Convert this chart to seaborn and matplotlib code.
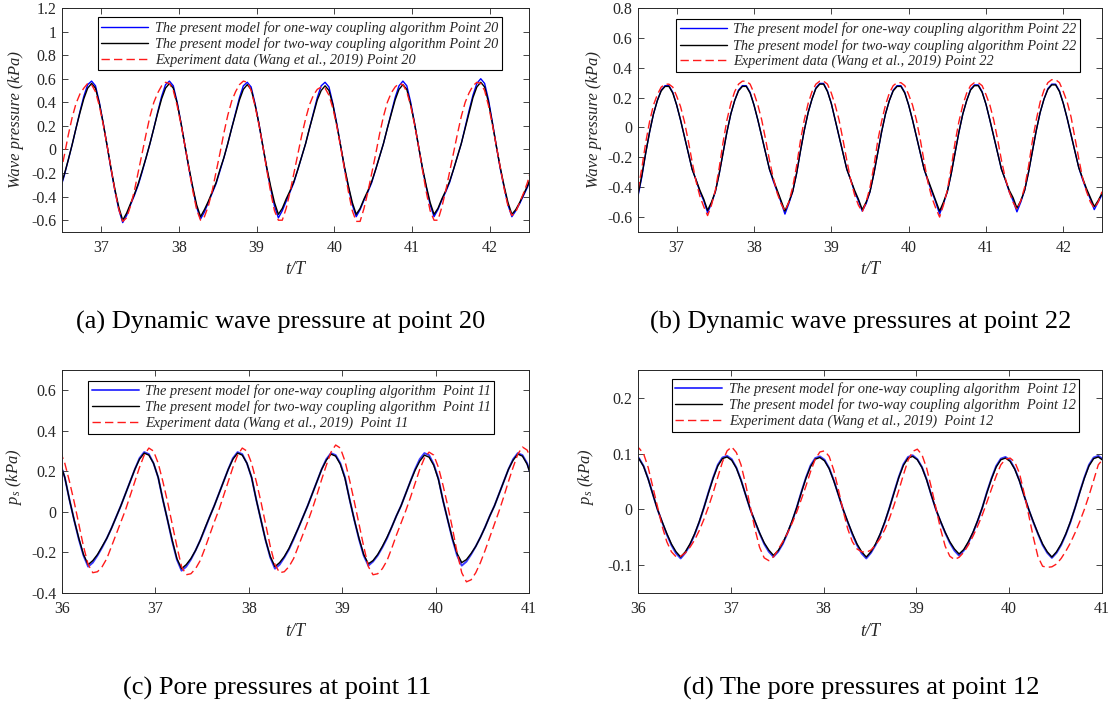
import matplotlib
matplotlib.use("Agg")
import matplotlib.pyplot as plt
import seaborn as sns

# ---------------- data ----------------
# (a) point 20, dynamic wave pressure (kPa) vs t/T
t_a = [36.48, 36.53, 36.58, 36.63, 36.68, 36.73, 36.78, 36.83, 36.88, 36.93, 36.98,
       37.03, 37.08, 37.13, 37.18, 37.23, 37.28, 37.33, 37.38, 37.43, 37.48, 37.53, 37.58, 37.63, 37.68, 37.73, 37.78, 37.83, 37.88, 37.93, 37.98,
       38.03, 38.08, 38.13, 38.18, 38.23, 38.28, 38.33, 38.38, 38.43, 38.48, 38.53, 38.58, 38.63, 38.68, 38.73, 38.78, 38.83, 38.88, 38.93, 38.98,
       39.03, 39.08, 39.13, 39.18, 39.23, 39.28, 39.33, 39.38, 39.43, 39.48, 39.53, 39.58, 39.63, 39.68, 39.73, 39.78, 39.83, 39.88, 39.93, 39.98,
       40.03, 40.08, 40.13, 40.18, 40.23, 40.28, 40.33, 40.38, 40.43, 40.48, 40.53, 40.58, 40.63, 40.68, 40.73, 40.78, 40.83, 40.88, 40.93, 40.98,
       41.03, 41.08, 41.13, 41.18, 41.23, 41.28, 41.33, 41.38, 41.43, 41.48, 41.53, 41.58, 41.63, 41.68, 41.73, 41.78, 41.83, 41.88, 41.93, 41.98,
       42.03, 42.08, 42.13, 42.18, 42.23, 42.28, 42.33, 42.38, 42.43, 42.48, 42.53]
one_way_a = [-0.33, -0.22, -0.09, 0.04, 0.18, 0.32, 0.45, 0.55, 0.58, 0.54, 0.40,
             0.22, 0.03, -0.17, -0.35, -0.51, -0.62, -0.56, -0.47, -0.39, -0.30, -0.19, -0.07, 0.05, 0.18, 0.32, 0.45, 0.55, 0.58, 0.54, 0.40,
             0.22, 0.03, -0.16, -0.33, -0.49, -0.59, -0.53, -0.45, -0.37, -0.29, -0.18, -0.07, 0.05, 0.18, 0.31, 0.44, 0.54, 0.57, 0.53, 0.39,
             0.22, 0.03, -0.16, -0.33, -0.48, -0.58, -0.52, -0.44, -0.36, -0.28, -0.17, -0.06, 0.05, 0.18, 0.31, 0.44, 0.54, 0.57, 0.53, 0.39,
             0.22, 0.03, -0.16, -0.32, -0.47, -0.57, -0.51, -0.43, -0.36, -0.28, -0.17, -0.06, 0.05, 0.18, 0.31, 0.44, 0.54, 0.58, 0.54, 0.40,
             0.22, 0.03, -0.16, -0.32, -0.47, -0.57, -0.51, -0.43, -0.36, -0.28, -0.17, -0.06, 0.05, 0.19, 0.33, 0.46, 0.56, 0.60, 0.56, 0.42,
             0.23, 0.03, -0.16, -0.32, -0.47, -0.57, -0.52, -0.46, -0.39, -0.32, -0.23]
two_way_a = [-0.32, -0.21, -0.09, 0.04, 0.18, 0.31, 0.43, 0.52, 0.56, 0.52, 0.39,
             0.22, 0.03, -0.16, -0.34, -0.49, -0.60, -0.54, -0.46, -0.38, -0.29, -0.18, -0.07, 0.05, 0.18, 0.31, 0.43, 0.52, 0.56, 0.52, 0.39,
             0.22, 0.03, -0.15, -0.32, -0.47, -0.57, -0.51, -0.44, -0.36, -0.28, -0.17, -0.07, 0.05, 0.18, 0.30, 0.42, 0.51, 0.55, 0.51, 0.38,
             0.22, 0.03, -0.15, -0.31, -0.45, -0.55, -0.50, -0.42, -0.35, -0.27, -0.17, -0.06, 0.05, 0.18, 0.30, 0.42, 0.50, 0.54, 0.50, 0.38,
             0.21, 0.03, -0.15, -0.31, -0.45, -0.55, -0.50, -0.42, -0.35, -0.27, -0.17, -0.06, 0.05, 0.18, 0.30, 0.42, 0.51, 0.55, 0.51, 0.38,
             0.22, 0.03, -0.15, -0.31, -0.45, -0.55, -0.50, -0.42, -0.35, -0.27, -0.17, -0.06, 0.05, 0.18, 0.31, 0.44, 0.53, 0.57, 0.53, 0.40,
             0.22, 0.03, -0.15, -0.31, -0.45, -0.55, -0.51, -0.45, -0.38, -0.31, -0.22]
exp_a = [-0.21, -0.05, 0.12, 0.27, 0.39, 0.47, 0.52, 0.56, 0.55, 0.49, 0.37,
         0.21, 0.03, -0.16, -0.35, -0.51, -0.61, -0.58, -0.48, -0.35, -0.19, -0.03, 0.13, 0.28, 0.40, 0.48, 0.54, 0.57, 0.56, 0.50, 0.37,
         0.21, 0.03, -0.16, -0.35, -0.51, -0.60, -0.57, -0.48, -0.35, -0.19, -0.03, 0.14, 0.29, 0.41, 0.49, 0.55, 0.58, 0.57, 0.50, 0.37,
         0.21, 0.03, -0.17, -0.36, -0.52, -0.60, -0.60, -0.50, -0.36, -0.20, -0.04, 0.12, 0.26, 0.38, 0.46, 0.51, 0.53, 0.52, 0.46, 0.35,
         0.20, 0.02, -0.17, -0.36, -0.52, -0.61, -0.61, -0.50, -0.36, -0.20, -0.04, 0.13, 0.28, 0.40, 0.48, 0.53, 0.56, 0.55, 0.49, 0.37,
         0.21, 0.03, -0.17, -0.36, -0.52, -0.60, -0.60, -0.49, -0.35, -0.19, -0.03, 0.13, 0.28, 0.40, 0.48, 0.54, 0.57, 0.56, 0.50, 0.37,
         0.21, 0.03, -0.15, -0.33, -0.48, -0.56, -0.53, -0.45, -0.37, -0.28, -0.16]

# (b) point 22, dynamic wave pressure (kPa) vs t/T
t_b = [36.50, 36.55, 36.60, 36.65, 36.70, 36.75, 36.80, 36.85, 36.90, 36.95,
       37.00, 37.05, 37.10, 37.15, 37.20, 37.25, 37.30, 37.35, 37.40, 37.45, 37.50, 37.55, 37.60, 37.65, 37.70, 37.75, 37.80, 37.85, 37.90, 37.95,
       38.00, 38.05, 38.10, 38.15, 38.20, 38.25, 38.30, 38.35, 38.40, 38.45, 38.50, 38.55, 38.60, 38.65, 38.70, 38.75, 38.80, 38.85, 38.90, 38.95,
       39.00, 39.05, 39.10, 39.15, 39.20, 39.25, 39.30, 39.35, 39.40, 39.45, 39.50, 39.55, 39.60, 39.65, 39.70, 39.75, 39.80, 39.85, 39.90, 39.95,
       40.00, 40.05, 40.10, 40.15, 40.20, 40.25, 40.30, 40.35, 40.40, 40.45, 40.50, 40.55, 40.60, 40.65, 40.70, 40.75, 40.80, 40.85, 40.90, 40.95,
       41.00, 41.05, 41.10, 41.15, 41.20, 41.25, 41.30, 41.35, 41.40, 41.45, 41.50, 41.55, 41.60, 41.65, 41.70, 41.75, 41.80, 41.85, 41.90, 41.95,
       42.00, 42.05, 42.10, 42.15, 42.20, 42.25, 42.30, 42.35, 42.40, 42.45, 42.50]
one_way_b = [-0.46, -0.33, -0.17, -0.03, 0.09, 0.18, 0.25, 0.28, 0.28, 0.235,
             0.15, 0.05, -0.06, -0.17, -0.28, -0.35, -0.43, -0.49, -0.57, -0.51, -0.43, -0.31, -0.17, -0.03, 0.09, 0.18, 0.25, 0.28, 0.28, 0.235,
             0.15, 0.05, -0.06, -0.17, -0.28, -0.36, -0.43, -0.50, -0.58, -0.51, -0.43, -0.31, -0.16, -0.02, 0.10, 0.19, 0.265, 0.295, 0.295, 0.245,
             0.16, 0.05, -0.06, -0.17, -0.28, -0.35, -0.43, -0.49, -0.56, -0.51, -0.43, -0.31, -0.17, -0.03, 0.09, 0.18, 0.25, 0.28, 0.28, 0.235,
             0.15, 0.05, -0.06, -0.17, -0.28, -0.36, -0.43, -0.50, -0.58, -0.51, -0.43, -0.31, -0.17, -0.03, 0.09, 0.18, 0.255, 0.285, 0.285, 0.24,
             0.155, 0.05, -0.06, -0.17, -0.28, -0.35, -0.43, -0.49, -0.565, -0.50, -0.42, -0.30, -0.16, -0.02, 0.10, 0.19, 0.26, 0.29, 0.29, 0.245,
             0.16, 0.06, -0.05, -0.16, -0.27, -0.35, -0.42, -0.48, -0.55, -0.50, -0.45]
two_way_b = [-0.45, -0.32, -0.17, -0.03, 0.09, 0.18, 0.245, 0.275, 0.275, 0.23,
             0.15, 0.05, -0.06, -0.17, -0.28, -0.35, -0.42, -0.48, -0.555, -0.50, -0.43, -0.31, -0.17, -0.03, 0.09, 0.18, 0.245, 0.275, 0.275, 0.23,
             0.15, 0.05, -0.06, -0.17, -0.28, -0.35, -0.42, -0.49, -0.56, -0.50, -0.43, -0.31, -0.16, -0.02, 0.10, 0.19, 0.26, 0.29, 0.29, 0.24,
             0.16, 0.05, -0.06, -0.17, -0.28, -0.35, -0.42, -0.48, -0.55, -0.50, -0.43, -0.31, -0.17, -0.03, 0.09, 0.18, 0.245, 0.275, 0.275, 0.23,
             0.15, 0.05, -0.06, -0.17, -0.28, -0.35, -0.42, -0.49, -0.56, -0.50, -0.43, -0.31, -0.17, -0.03, 0.09, 0.18, 0.25, 0.28, 0.28, 0.235,
             0.155, 0.05, -0.06, -0.17, -0.28, -0.35, -0.42, -0.47, -0.54, -0.49, -0.42, -0.30, -0.16, -0.02, 0.10, 0.19, 0.255, 0.285, 0.285, 0.24,
             0.16, 0.06, -0.05, -0.16, -0.27, -0.34, -0.41, -0.47, -0.53, -0.49, -0.44]
exp_b = [-0.42, -0.27, -0.10, 0.04, 0.15, 0.22, 0.27, 0.29, 0.29, 0.27,
         0.21, 0.14, 0.04, -0.09, -0.23, -0.36, -0.46, -0.53, -0.59, -0.52, -0.42, -0.27, -0.10, 0.05, 0.16, 0.24, 0.29, 0.31, 0.31, 0.29,
         0.23, 0.15, 0.05, -0.08, -0.22, -0.34, -0.44, -0.51, -0.56, -0.50, -0.40, -0.26, -0.09, 0.05, 0.16, 0.24, 0.29, 0.31, 0.31, 0.29,
         0.23, 0.15, 0.05, -0.08, -0.22, -0.35, -0.45, -0.52, -0.565, -0.50, -0.40, -0.26, -0.09, 0.04, 0.15, 0.23, 0.28, 0.30, 0.30, 0.28,
         0.22, 0.15, 0.05, -0.08, -0.23, -0.37, -0.47, -0.54, -0.60, -0.52, -0.42, -0.27, -0.10, 0.04, 0.15, 0.23, 0.28, 0.30, 0.30, 0.28,
         0.22, 0.15, 0.05, -0.08, -0.22, -0.34, -0.43, -0.50, -0.55, -0.49, -0.40, -0.26, -0.09, 0.05, 0.17, 0.25, 0.30, 0.32, 0.32, 0.30,
         0.24, 0.17, 0.07, -0.07, -0.21, -0.34, -0.43, -0.50, -0.54, -0.50, -0.43]

# (c) point 11, pore pressure (kPa) vs t/T
t_c = [35.98,
       36.03, 36.08, 36.13, 36.18, 36.23, 36.28, 36.33, 36.38, 36.43, 36.48, 36.53, 36.58, 36.63, 36.68, 36.73, 36.78, 36.83, 36.88, 36.93, 36.98,
       37.03, 37.08, 37.13, 37.18, 37.23, 37.28, 37.33, 37.38, 37.43, 37.48, 37.53, 37.58, 37.63, 37.68, 37.73, 37.78, 37.83, 37.88, 37.93, 37.98,
       38.03, 38.08, 38.13, 38.18, 38.23, 38.28, 38.33, 38.38, 38.43, 38.48, 38.53, 38.58, 38.63, 38.68, 38.73, 38.78, 38.83, 38.88, 38.93, 38.98,
       39.03, 39.08, 39.13, 39.18, 39.23, 39.28, 39.33, 39.38, 39.43, 39.48, 39.53, 39.58, 39.63, 39.68, 39.73, 39.78, 39.83, 39.88, 39.93, 39.98,
       40.03, 40.08, 40.13, 40.18, 40.23, 40.28, 40.33, 40.38, 40.43, 40.48, 40.53, 40.58, 40.63, 40.68, 40.73, 40.78, 40.83, 40.88, 40.93, 40.98,
       41.03]
one_way_c = [0.24,
             0.17, 0.06, -0.04, -0.135, -0.215, -0.27, -0.25, -0.215, -0.175, -0.13, -0.08, -0.025, 0.03, 0.09, 0.15, 0.21, 0.265, 0.295, 0.285, 0.24,
             0.17, 0.06, -0.04, -0.145, -0.235, -0.29, -0.27, -0.235, -0.19, -0.14, -0.085, -0.025, 0.03, 0.09, 0.15, 0.21, 0.265, 0.295, 0.285, 0.24,
             0.17, 0.06, -0.04, -0.14, -0.225, -0.28, -0.26, -0.225, -0.185, -0.135, -0.08, -0.025, 0.03, 0.09, 0.15, 0.21, 0.26, 0.29, 0.28, 0.24,
             0.17, 0.06, -0.04, -0.135, -0.215, -0.265, -0.245, -0.215, -0.175, -0.13, -0.075, -0.02, 0.03, 0.09, 0.15, 0.21, 0.26, 0.29, 0.28, 0.235,
             0.165, 0.055, -0.04, -0.135, -0.215, -0.265, -0.245, -0.21, -0.17, -0.125, -0.075, -0.02, 0.03, 0.09, 0.15, 0.21, 0.26, 0.29, 0.28, 0.24,
             0.17]
two_way_c = [0.24,
             0.17, 0.06, -0.04, -0.13, -0.21, -0.26, -0.24, -0.21, -0.17, -0.13, -0.08, -0.025, 0.03, 0.09, 0.15, 0.21, 0.26, 0.29, 0.28, 0.24,
             0.17, 0.06, -0.04, -0.14, -0.23, -0.28, -0.26, -0.23, -0.19, -0.14, -0.08, -0.025, 0.03, 0.09, 0.15, 0.21, 0.26, 0.29, 0.28, 0.24,
             0.17, 0.06, -0.04, -0.14, -0.22, -0.27, -0.25, -0.22, -0.18, -0.13, -0.08, -0.025, 0.03, 0.09, 0.15, 0.21, 0.255, 0.285, 0.275, 0.235,
             0.165, 0.06, -0.04, -0.13, -0.21, -0.256, -0.24, -0.21, -0.17, -0.125, -0.075, -0.02, 0.03, 0.09, 0.15, 0.205, 0.25, 0.28, 0.27, 0.23,
             0.16, 0.055, -0.04, -0.13, -0.205, -0.25, -0.235, -0.205, -0.17, -0.125, -0.075, -0.02, 0.03, 0.09, 0.15, 0.21, 0.255, 0.285, 0.275, 0.235,
             0.165]
exp_c = [0.30,
         0.24, 0.15, 0.05, -0.06, -0.17, -0.26, -0.30, -0.295, -0.27, -0.23, -0.17, -0.11, -0.05, 0.01, 0.08, 0.15, 0.22, 0.28, 0.315, 0.30,
         0.24, 0.15, 0.05, -0.06, -0.17, -0.27, -0.31, -0.305, -0.28, -0.24, -0.18, -0.115, -0.05, 0.01, 0.08, 0.15, 0.22, 0.28, 0.315, 0.30,
         0.24, 0.15, 0.05, -0.06, -0.17, -0.26, -0.30, -0.295, -0.27, -0.23, -0.17, -0.11, -0.05, 0.015, 0.085, 0.16, 0.23, 0.295, 0.33, 0.315,
         0.25, 0.155, 0.05, -0.06, -0.17, -0.27, -0.31, -0.305, -0.28, -0.24, -0.18, -0.115, -0.055, 0.005, 0.07, 0.14, 0.21, 0.265, 0.295, 0.28,
         0.22, 0.13, 0.03, -0.08, -0.20, -0.30, -0.345, -0.335, -0.30, -0.25, -0.19, -0.125, -0.06, 0.005, 0.075, 0.15, 0.22, 0.285, 0.32, 0.305,
         0.25]

# (d) point 12, pore pressure (kPa) vs t/T
t_d = [35.96,
       36.01, 36.06, 36.11, 36.16, 36.21, 36.26, 36.31, 36.36, 36.41, 36.46, 36.51, 36.56, 36.61, 36.66, 36.71, 36.76, 36.81, 36.86, 36.91, 36.96,
       37.01, 37.06, 37.11, 37.16, 37.21, 37.26, 37.31, 37.36, 37.41, 37.46, 37.51, 37.56, 37.61, 37.66, 37.71, 37.76, 37.81, 37.86, 37.91, 37.96,
       38.01, 38.06, 38.11, 38.16, 38.21, 38.26, 38.31, 38.36, 38.41, 38.46, 38.51, 38.56, 38.61, 38.66, 38.71, 38.76, 38.81, 38.86, 38.91, 38.96,
       39.01, 39.06, 39.11, 39.16, 39.21, 39.26, 39.31, 39.36, 39.41, 39.46, 39.51, 39.56, 39.61, 39.66, 39.71, 39.76, 39.81, 39.86, 39.91, 39.96,
       40.01, 40.06, 40.11, 40.16, 40.21, 40.26, 40.31, 40.36, 40.41, 40.46, 40.51, 40.56, 40.61, 40.66, 40.71, 40.76, 40.81, 40.86, 40.91, 40.96,
       41.01, 41.06]
one_way_d = [0.098,
             0.092, 0.078, 0.055, 0.027, 0.0, -0.023, -0.045, -0.064, -0.079, -0.088, -0.078, -0.064, -0.045, -0.023, 0.003, 0.031, 0.057, 0.08, 0.093, 0.096,
             0.09, 0.075, 0.053, 0.026, 0.0, -0.022, -0.043, -0.062, -0.076, -0.085, -0.076, -0.062, -0.043, -0.022, 0.003, 0.031, 0.057, 0.079, 0.092, 0.095,
             0.089, 0.074, 0.052, 0.026, 0.0, -0.023, -0.045, -0.064, -0.079, -0.088, -0.078, -0.064, -0.045, -0.023, 0.003, 0.031, 0.058, 0.081, 0.094, 0.097,
             0.09, 0.076, 0.054, 0.026, 0.0, -0.022, -0.042, -0.06, -0.074, -0.083, -0.074, -0.06, -0.042, -0.021, 0.003, 0.031, 0.056, 0.078, 0.091, 0.094,
             0.088, 0.073, 0.052, 0.025, 0.0, -0.023, -0.044, -0.064, -0.078, -0.087, -0.078, -0.064, -0.045, -0.023, 0.003, 0.031, 0.057, 0.08, 0.093, 0.096,
             0.09, 0.075]
two_way_d = [0.097,
             0.091, 0.077, 0.054, 0.027, 0.0, -0.022, -0.043, -0.062, -0.076, -0.0855, -0.076, -0.062, -0.044, -0.022, 0.003, 0.03, 0.056, 0.078, 0.091, 0.094,
             0.088, 0.074, 0.052, 0.026, 0.0, -0.021, -0.042, -0.06, -0.073, -0.0825, -0.074, -0.06, -0.042, -0.021, 0.003, 0.03, 0.056, 0.077, 0.09, 0.093,
             0.087, 0.073, 0.051, 0.026, 0.0, -0.022, -0.043, -0.062, -0.076, -0.0855, -0.076, -0.062, -0.044, -0.022, 0.003, 0.03, 0.057, 0.079, 0.092, 0.095,
             0.089, 0.075, 0.053, 0.026, 0.0, -0.021, -0.041, -0.058, -0.071, -0.08, -0.072, -0.058, -0.041, -0.02, 0.003, 0.03, 0.055, 0.076, 0.089, 0.092,
             0.086, 0.072, 0.051, 0.025, 0.0, -0.022, -0.043, -0.062, -0.076, -0.0855, -0.076, -0.062, -0.044, -0.022, 0.003, 0.03, 0.056, 0.078, 0.091, 0.094,
             0.088, 0.074]
exp_d = [0.108,
         0.11, 0.10, 0.075, 0.04, 0.005, -0.03, -0.058, -0.076, -0.085, -0.084, -0.078, -0.068, -0.055, -0.038, -0.018, 0.005, 0.03, 0.058, 0.085, 0.105,
         0.112, 0.102, 0.08, 0.045, 0.005, -0.035, -0.068, -0.087, -0.092, -0.085, -0.072, -0.058, -0.043, -0.025, -0.005, 0.018, 0.042, 0.068, 0.09, 0.103,
         0.105, 0.095, 0.07, 0.035, -0.002, -0.035, -0.058, -0.071, -0.076, -0.077, -0.073, -0.064, -0.052, -0.036, -0.016, 0.008, 0.034, 0.062, 0.088, 0.104,
         0.108, 0.098, 0.074, 0.04, 0.003, -0.035, -0.066, -0.084, -0.09, -0.086, -0.077, -0.064, -0.048, -0.03, -0.01, 0.013, 0.037, 0.06, 0.08, 0.09,
         0.092, 0.085, 0.065, 0.03, -0.01, -0.05, -0.085, -0.102, -0.104, -0.103, -0.098, -0.088, -0.075, -0.06, -0.042, -0.022, 0.0, 0.025, 0.052, 0.08,
         0.09, 0.095]

# axis ticks / labels
xticks_ab = [37, 38, 39, 40, 41, 42]
xticks_cd = [36, 37, 38, 39, 40, 41]
yticks_a = [-0.6, -0.4, -0.2, 0, 0.2, 0.4, 0.6, 0.8, 1.0, 1.2]
ylabels_a = ["-0.6", "-0.4", "-0.2", "0", "0.2", "0.4", "0.6", "0.8", "1", "1.2"]
yticks_b = [-0.6, -0.4, -0.2, 0, 0.2, 0.4, 0.6, 0.8]
ylabels_b = ["-0.6", "-0.4", "-0.2", "0", "0.2", "0.4", "0.6", "0.8"]
yticks_c = [-0.4, -0.2, 0, 0.2, 0.4, 0.6]
ylabels_c = ["-0.4", "-0.2", "0", "0.2", "0.4", "0.6"]
yticks_d = [-0.1, 0, 0.1, 0.2]
ylabels_d = ["-0.1", "0", "0.1", "0.2"]

legend_a = ["The present model for one-way coupling algorithm Point 20",
            "The present model for two-way coupling algorithm Point 20",
            "Experiment data (Wang et al., 2019) Point 20"]
legend_b = ["The present model for one-way coupling algorithm Point 22",
            "The present model for two-way coupling algorithm Point 22",
            "Experiment data (Wang et al., 2019) Point 22"]
legend_c = ["The present model for one-way coupling algorithm  Point 11",
            "The present model for two-way coupling algorithm  Point 11",
            "Experiment data (Wang et al., 2019)  Point 11"]
legend_d = ["The present model for one-way coupling algorithm  Point 12",
            "The present model for two-way coupling algorithm  Point 12",
            "Experiment data (Wang et al., 2019)  Point 12"]

captions = ["(a) Dynamic wave pressure at point 20",
            "(b) Dynamic wave pressures at point 22",
            "(c) Pore pressures at point 11",
            "(d) The pore pressures at point 12"]

# ---------------- style ----------------
sns.set_theme(style="ticks")
plt.rcParams["font.family"] = ["Liberation Serif", "DejaVu Serif"]
plt.rcParams["mathtext.fontset"] = "custom"
plt.rcParams["mathtext.it"] = "Liberation Serif:italic"
plt.rcParams["mathtext.rm"] = "Liberation Serif"

W, H = 1109, 706
fig = plt.figure(figsize=(W / 100, H / 100), dpi=100)


def px_axes(left, top, right, bottom):
    return fig.add_axes([left / W, 1 - bottom / H, (right - left) / W, (bottom - top) / H])


def panel(ax, t, ow, tw, ex, labels, xlim, ylim, xt, yt, ytl, ylabel,
          anchor, blue_col, blue_lw):
    sns.lineplot(x=t, y=ow, ax=ax, color=blue_col, linewidth=blue_lw,
                 estimator=None, sort=False, legend=False)
    sns.lineplot(x=t, y=tw, ax=ax, color="black", linewidth=1.0,
                 estimator=None, sort=False, legend=False)
    sns.lineplot(x=t, y=ex, ax=ax, color="#ff1a1a", linewidth=1.0,
                 estimator=None, sort=False, legend=False, linestyle=(0, (6, 3)))
    ax.set_xlim(*xlim)
    ax.set_ylim(*ylim)
    ax.set_xticks(xt)
    ax.set_xticklabels([str(v) for v in xt])
    ax.set_yticks(yt)
    ax.set_yticklabels(ytl)
    for s in ax.spines.values():
        s.set_visible(True)
        s.set_linewidth(0.7)
        s.set_color("#262626")
    ax.tick_params(axis="both", direction="in", length=4, width=0.6,
                   top=True, right=True, labelsize=11.5, colors="#262626")
    ax.tick_params(axis="x", pad=6)
    ax.tick_params(axis="y", pad=4)
    ax.set_xlabel("t/T", fontsize=13, fontstyle="italic", color="#262626")
    ax.set_ylabel(ylabel, fontsize=12, fontstyle="italic", color="#262626")
    ax.grid(False)
    leg = ax.legend(ax.lines[:3], labels, loc="upper left", bbox_to_anchor=anchor,
                    borderaxespad=0, frameon=True, fancybox=False, framealpha=1,
                    edgecolor="black",
                    prop={"family": "Liberation Serif", "style": "italic", "size": 10.25},
                    handlelength=3.3, handletextpad=0.45, labelspacing=0.17, borderpad=0.25)
    leg.get_frame().set_linewidth(0.8)
    return ax


ax_a = px_axes(62, 8, 529, 232)
panel(ax_a, t_a, one_way_a, two_way_a, exp_a, legend_a, (36.5, 42.5), (-0.7, 1.2),
      xticks_ab, yticks_a, ylabels_a, "Wave pressure (kPa)", (0.0767, 0.9585), "#0000ff", 1.0)
ax_a.yaxis.set_label_coords(-38 / 467, 0.5)
ax_a.xaxis.set_label_coords(0.5, -29 / 224)

ax_b = px_axes(638, 8, 1102, 232)
panel(ax_b, t_b, one_way_b, two_way_b, exp_b, legend_b, (36.5, 42.5), (-0.7, 0.8),
      xticks_ab, yticks_b, ylabels_b, "Wave pressure (kPa)", (0.082, 0.951), "#0000ff", 1.0)
ax_b.yaxis.set_label_coords(-36 / 464, 0.5)
ax_b.xaxis.set_label_coords(0.5, -29 / 224)

ax_c = px_axes(62, 370, 529, 593)
panel(ax_c, t_c, one_way_c, two_way_c, exp_c, legend_c, (36, 41), (-0.4, 0.7),
      xticks_cd, yticks_c, ylabels_c, r"$p_s$ (kPa)", (0.0557, 0.951), "#3a3aff", 1.4)
ax_c.yaxis.set_label_coords(-38 / 467, 0.52)
ax_c.xaxis.set_label_coords(0.5, -30 / 223)

ax_d = px_axes(638, 370, 1102, 593)
panel(ax_d, t_d, one_way_d, two_way_d, exp_d, legend_d, (36, 41), (-0.15, 0.25),
      xticks_cd, yticks_d, ylabels_d, r"$p_s$ (kPa)", (0.073, 0.96), "#3a3aff", 1.4)
ax_d.yaxis.set_label_coords(-42 / 464, 0.52)
ax_d.xaxis.set_label_coords(0.5, -30 / 223)

cap_pos = [(281, 322), (861, 322), (277, 688), (861, 688)]
for txt, (cx, cy) in zip(captions, cap_pos):
    fig.text(cx / W, 1 - cy / H, txt, ha="center", va="center", fontsize=19, color="black")

fig.savefig("out.png", dpi=100)
